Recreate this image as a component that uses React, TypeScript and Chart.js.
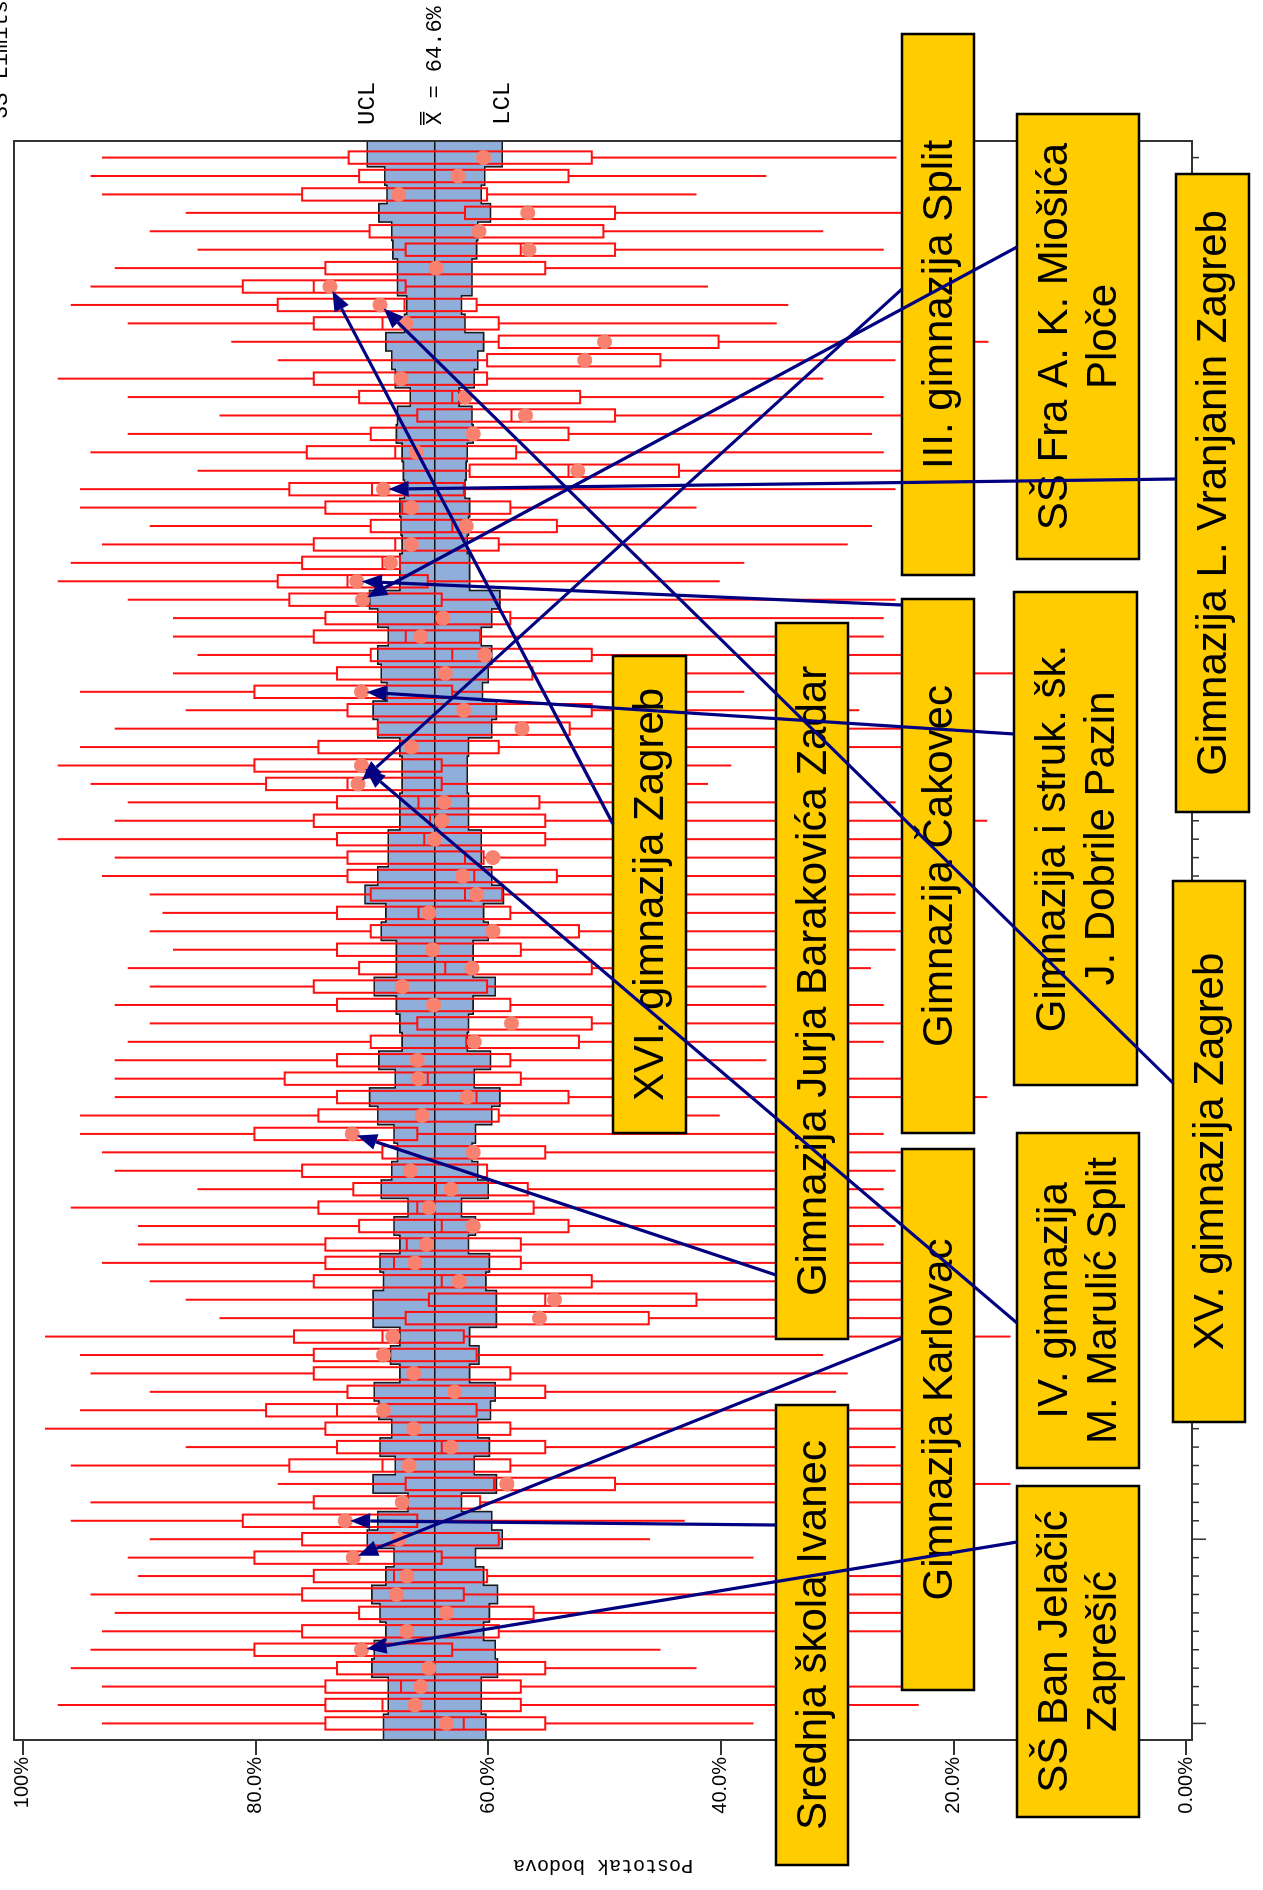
import React, { useEffect, useRef } from 'react';
import { Chart, registerables } from 'chart.js';

Chart.register(...registerables);

// The chart is drawn landscape (1890 x 1263) and the whole block is turned 90deg counter-clockwise.
const W = 1890;
const H = 1263;

const grandMean = 64.6;
const valueTicks = [0, 20, 40, 60, 80, 100];
const valueTickLabels = ['0.00%', '20.0%', '40.0%', '60.0%', '80.0%', '100%'];

// One entry per school, listed from the top of the page downwards (percent of points).
const hi = [93.2, 94.2, 93.2, 86.0, 89.1, 85.0, 92.1, 94.2, 95.9, 91.0,
  82.1, 78.1, 97.0, 91.0, 83.1, 91.0, 94.2, 85.0, 95.1, 95.1,
  89.1, 93.2, 95.9, 97.0, 91.0, 87.1, 87.1, 85.0, 87.1, 95.1,
  86.0, 92.1, 95.1, 97.0, 94.2, 91.0, 92.1, 97.0, 92.1, 93.2,
  89.1, 88.0, 89.1, 87.1, 91.0, 89.1, 92.1, 89.1, 91.0, 92.1,
  92.1, 92.1, 95.1, 95.1, 93.2, 92.1, 85.0, 95.9, 90.1, 90.1,
  93.2, 89.1, 86.0, 83.1, 98.1, 95.1, 94.2, 89.1, 95.1, 98.1,
  86.0, 95.9, 78.1, 94.2, 95.9, 89.1, 91.0, 90.1, 94.2, 92.1,
  93.2, 94.2, 95.9, 93.2, 97.0, 93.2];
const q3 = [72.0, 71.1, 76.0, 62.0, 70.2, 67.1, 74.0, 81.1, 78.1, 75.0,
  59.1, 60.1, 75.0, 71.1, 66.1, 70.1, 75.6, 61.6, 77.1, 74.0,
  70.1, 75.0, 76.0, 78.1, 77.1, 74.0, 75.0, 70.1, 73.0, 80.1,
  72.1, 69.5, 74.6, 80.1, 79.1, 73.0, 75.0, 73.0, 72.1, 72.1,
  70.1, 73.0, 70.1, 73.0, 71.1, 75.0, 73.0, 66.1, 70.1, 73.0,
  77.5, 73.0, 74.6, 80.1, 69.1, 76.0, 71.6, 74.6, 71.1, 74.0,
  74.0, 75.0, 65.1, 67.1, 76.7, 75.0, 75.0, 72.1, 79.1, 74.0,
  73.0, 77.1, 67.1, 75.0, 81.1, 76.0, 80.1, 75.0, 76.0, 71.1,
  76.0, 80.1, 73.0, 74.0, 74.0, 74.0];
const med = [60.4, 62.6, 67.7, 56.6, 60.8, 57.2, 64.5, 75.0, 67.2, 69.1,
  50.0, 51.7, 67.5, 63.1, 58.0, 61.3, 68.0, 53.1, 70.0, 67.4,
  63.1, 68.0, 69.1, 72.1, 70.8, 64.5, 67.1, 63.1, 63.7, 70.9,
  62.1, 57.1, 66.6, 70.9, 72.1, 66.0, 65.0, 65.5, 62.0, 61.2,
  62.0, 66.0, 59.6, 64.8, 63.7, 67.4, 64.7, 58.0, 61.9, 66.1,
  65.2, 61.0, 65.7, 71.7, 61.3, 66.7, 64.5, 66.1, 64.0, 67.0,
  68.1, 64.0, 55.1, 55.6, 69.1, 69.0, 66.4, 62.9, 73.0, 66.4,
  64.0, 69.1, 59.5, 67.4, 72.3, 67.7, 71.6, 68.1, 67.9, 63.6,
  67.0, 70.9, 65.1, 67.5, 69.1, 62.1];
const q1 = [51.1, 53.1, 60.1, 49.1, 50.1, 49.1, 55.1, 67.1, 61.0, 59.1,
  40.2, 45.2, 60.1, 52.1, 49.1, 53.1, 57.6, 43.6, 62.1, 58.1,
  54.1, 59.1, 67.6, 65.2, 64.0, 58.1, 60.7, 51.1, 56.2, 63.1,
  51.1, 53.0, 59.1, 64.0, 64.0, 55.6, 55.1, 55.1, 60.4, 54.1,
  58.8, 58.1, 52.2, 57.2, 51.1, 60.1, 58.1, 51.1, 52.2, 58.1,
  57.2, 53.1, 59.1, 66.1, 55.1, 60.1, 56.6, 56.1, 53.1, 57.2,
  57.2, 51.1, 42.1, 46.2, 62.1, 61.0, 58.1, 55.1, 61.0, 58.1,
  55.1, 58.1, 49.1, 60.7, 66.1, 59.1, 64.0, 60.1, 62.1, 56.1,
  59.1, 63.1, 55.1, 57.2, 57.2, 55.1];
const lo = [24.9, 36.1, 42.1, 24.0, 31.2, 26.0, 22.0, 41.1, 34.2, 35.2,
  17.0, 25.0, 31.2, 26.0, 24.0, 27.0, 26.0, 20.0, 25.0, 42.1,
  27.0, 29.1, 38.0, 40.1, 25.0, 26.0, 26.0, 24.0, 14.8, 38.0,
  28.1, 22.0, 24.0, 39.1, 41.1, 25.0, 17.1, 23.0, 24.0, 24.0,
  25.0, 25.0, 22.0, 25.0, 27.1, 36.1, 26.0, 22.0, 26.0, 36.1,
  24.0, 17.1, 40.1, 26.0, 24.0, 25.0, 26.0, 24.0, 25.0, 26.0,
  24.0, 23.0, 20.0, 22.0, 15.1, 31.2, 29.1, 30.1, 24.0, 22.0,
  25.0, 24.0, 15.1, 23.0, 43.1, 46.1, 37.2, 24.0, 23.0, 24.0,
  24.0, 45.2, 42.1, 24.0, 23.0, 37.2];
const mean = [60.4, 62.6, 67.7, 56.6, 60.8, 56.5, 64.5, 73.6, 69.3, 67.1,
  50.0, 51.7, 67.5, 62.0, 56.8, 61.3, 66.2, 52.3, 69.0, 66.6,
  61.9, 66.6, 68.4, 71.3, 70.8, 63.9, 65.8, 60.3, 63.7, 70.9,
  62.1, 57.1, 66.6, 70.9, 71.2, 63.8, 64.0, 64.6, 59.6, 62.2,
  61.0, 65.1, 59.6, 64.8, 61.4, 67.4, 64.7, 58.0, 61.2, 66.1,
  66.0, 61.8, 65.7, 71.7, 61.3, 66.7, 63.2, 65.1, 61.3, 65.3,
  66.3, 62.5, 54.3, 55.6, 68.2, 69.0, 66.4, 62.9, 69.0, 66.4,
  63.2, 66.8, 58.4, 67.4, 72.3, 67.7, 71.6, 67.0, 67.9, 63.6,
  67.0, 70.9, 65.1, 65.8, 66.3, 63.6];
const ucl = [70.4, 68.9, 68.7, 69.4, 68.3, 68.2, 67.8, 67.8, 67.0, 67.2,
  68.8, 68.3, 68.0, 66.7, 67.8, 67.9, 67.4, 67.3, 67.2, 67.6,
  67.5, 67.4, 67.6, 67.6, 70.2, 69.5, 68.6, 69.5, 69.2, 68.7,
  69.9, 69.5, 67.6, 67.4, 67.4, 67.6, 67.6, 68.6, 68.6, 69.5,
  70.6, 68.8, 69.2, 67.9, 67.9, 69.8, 67.9, 67.6, 67.4, 69.4,
  68.0, 70.2, 69.5, 68.1, 67.8, 68.3, 69.2, 66.9, 68.1, 67.6,
  69.3, 69.0, 69.9, 69.9, 67.6, 68.4, 67.6, 69.8, 69.4, 68.3,
  69.3, 68.0, 69.9, 66.9, 69.5, 70.4, 68.1, 68.8, 70.0, 69.3,
  68.8, 69.8, 70.0, 68.6, 68.6, 69.0];
const lcl = [58.8, 60.3, 60.6, 59.8, 60.9, 61.0, 61.4, 61.4, 62.3, 62.0,
  60.4, 60.9, 61.2, 62.5, 61.4, 61.3, 61.8, 61.9, 62.0, 61.6,
  61.7, 61.8, 61.6, 61.6, 59.0, 59.7, 60.6, 59.7, 60.0, 60.5,
  59.3, 59.7, 61.7, 61.8, 61.8, 61.7, 61.7, 60.6, 60.6, 59.7,
  58.7, 60.4, 60.0, 61.3, 61.3, 59.4, 61.3, 61.7, 61.8, 59.8,
  61.2, 59.0, 59.7, 61.1, 61.4, 60.9, 60.0, 62.3, 61.1, 61.7,
  59.9, 60.2, 59.3, 59.3, 61.6, 60.8, 61.6, 59.4, 59.8, 60.9,
  59.9, 61.2, 59.3, 62.3, 59.7, 58.8, 61.1, 60.4, 59.2, 59.9,
  60.4, 59.4, 59.2, 60.6, 60.6, 60.2];

// Labelled schools: text lines and the row (1-based, from the top) their arrow points at.
const calloutText = [
  ['III. gimnazija Split'],
  ['SŠ Fra A. K. Miošića', 'Ploče'],
  ['Gimnazija L. Vranjanin Zagreb'],
  ['XVI. gimnazija Zagreb'],
  ['Gimnazija Jurja Barakovića Zadar'],
  ['Gimnazija Čakovec'],
  ['Gimnazija i struk. šk.', 'J. Dobrile Pazin'],
  ['XV. gimnazija Zagreb'],
  ['Gimnazija Karlovac'],
  ['IV. gimnazija', 'M. Marulić Split'],
  ['Srednja škola Ivanec'],
  ['SŠ Ban Jelačić', 'Zaprešić'],
];
const calloutRow = [35, 25, 19, 8, 54, 24, 30, 9, 77, 34, 75, 82];

// Layout of the callout boxes in the landscape drawing: [left, top, width, height] and arrow start.
const calloutBox = [
  [1315, 902, 541, 72], [1331, 1017, 445, 122], [1078, 1176, 638, 73], [757, 613, 477, 73],
  [551, 776, 716, 72], [757, 902, 534, 72], [805, 1014, 493, 123], [468, 1173, 541, 72],
  [200, 902, 541, 72], [422, 1017, 335, 122], [25, 776, 460, 72], [73, 1017, 331, 122],
];
const calloutStart = [
  [1601, 902], [1643, 1017], [1411, 1176], [1066, 613],
  [615, 776], [1285, 902], [1156, 1014], [807, 1173],
  [552, 902], [567, 1017], [365, 776], [348, 1017],
];

const N = mean.length;
const pos = (i: number) => N - i; // row i from the top -> position along the school axis

const MONO = '"Liberation Mono", "Courier New", monospace';
const SANS = '"Liberation Sans", Arial, sans-serif';

function drawArrow(ctx: CanvasRenderingContext2D, x0: number, y0: number, x1: number, y1: number) {
  const ang = Math.atan2(y1 - y0, x1 - x0);
  const L = 20;
  const hw = 8;
  const bx = x1 - L * Math.cos(ang);
  const by = y1 - L * Math.sin(ang);
  ctx.beginPath();
  ctx.moveTo(x0, y0);
  ctx.lineTo(bx, by);
  ctx.stroke();
  ctx.beginPath();
  ctx.moveTo(x1, y1);
  ctx.lineTo(bx + hw * Math.sin(ang), by - hw * Math.cos(ang));
  ctx.lineTo(bx - hw * Math.sin(ang), by + hw * Math.cos(ang));
  ctx.closePath();
  ctx.fill();
}

export default function App() {
  const ref = useRef<HTMLCanvasElement>(null);

  useEffect(() => {
    const canvas = ref.current;
    if (!canvas) return;

    const qcPlugin = {
      id: 'qcPlugin',
      beforeDatasetsDraw(chart: any) {
        const { ctx, chartArea: a, scales } = chart;
        const xs = scales.x;
        const ys = scales.y;
        const seg = (i: number) => {
          let l = xs.getPixelForValue(pos(i) - 0.5);
          let r = xs.getPixelForValue(pos(i) + 0.5);
          if (i === N - 1) l = a.left;
          if (i === 0) r = a.right;
          return [l, r];
        };
        // control-limit band
        ctx.save();
        ctx.beginPath();
        for (let i = N - 1; i >= 0; i--) {
          const [l, r] = seg(i);
          const yy = ys.getPixelForValue(ucl[i]);
          if (i === N - 1) ctx.moveTo(l, yy); else ctx.lineTo(l, yy);
          ctx.lineTo(r, yy);
        }
        for (let i = 0; i < N; i++) {
          const [l, r] = seg(i);
          const yy = ys.getPixelForValue(lcl[i]);
          ctx.lineTo(r, yy);
          ctx.lineTo(l, yy);
        }
        ctx.closePath();
        ctx.fillStyle = '#8FAEDA';
        ctx.fill();
        ctx.strokeStyle = '#1a1a1a';
        ctx.lineWidth = 1.6;
        [ucl, lcl].forEach((lim) => {
          ctx.beginPath();
          for (let i = N - 1; i >= 0; i--) {
            const [l, r] = seg(i);
            const yy = ys.getPixelForValue(lim[i]);
            if (i === N - 1) ctx.moveTo(l, yy); else ctx.lineTo(l, yy);
            ctx.lineTo(r, yy);
          }
          ctx.stroke();
        });
        // grand mean line
        const ym = ys.getPixelForValue(grandMean);
        ctx.beginPath();
        ctx.moveTo(a.left, ym);
        ctx.lineTo(a.right, ym);
        ctx.strokeStyle = '#111';
        ctx.lineWidth = 1.6;
        ctx.stroke();
        // box plots
        const bw = 6.2;
        ctx.strokeStyle = '#FF1010';
        ctx.lineWidth = 2;
        for (let i = 0; i < N; i++) {
          const c = xs.getPixelForValue(pos(i));
          const yHi = ys.getPixelForValue(hi[i]);
          const yQ3 = ys.getPixelForValue(q3[i]);
          const yMed = ys.getPixelForValue(med[i]);
          const yQ1 = ys.getPixelForValue(q1[i]);
          const yLo = ys.getPixelForValue(lo[i]);
          ctx.beginPath();
          ctx.moveTo(c, yHi);
          ctx.lineTo(c, yQ3);
          ctx.moveTo(c, yQ1);
          ctx.lineTo(c, yLo);
          ctx.moveTo(c - bw, yMed);
          ctx.lineTo(c + bw, yMed);
          ctx.stroke();
          ctx.strokeRect(c - bw, yQ3, 2 * bw, yQ1 - yQ3);
        }
        ctx.restore();
      },
      afterDraw(chart: any) {
        const { ctx, chartArea: a, scales } = chart;
        const xs = scales.x;
        const ys = scales.y;
        ctx.save();
        // frame
        ctx.strokeStyle = '#333';
        ctx.lineWidth = 2;
        ctx.strokeRect(a.left, a.top, a.right - a.left, a.bottom - a.top);
        // school-axis ticks
        ctx.beginPath();
        for (let p = 1; p <= N; p++) {
          const xx = xs.getPixelForValue(p);
          const len = (p - 1) % 10 === 0 ? 14 : 7;
          ctx.moveTo(xx, a.bottom);
          ctx.lineTo(xx, a.bottom + len);
        }
        ctx.lineWidth = 1.5;
        ctx.stroke();
        ctx.fillStyle = '#000';
        ctx.font = '20px ' + MONO;
        ctx.textAlign = 'center';
        ctx.textBaseline = 'top';
        ctx.fillText('Škola', (a.left + a.right) / 2, a.bottom + 14);
        // header text cut by the page edge
        ctx.textAlign = 'left';
        ctx.textBaseline = 'alphabetic';
        ctx.font = '22px ' + MONO;
        ctx.fillText('3S Limits', a.right + 22, 7);
        // limit labels
        ctx.textBaseline = 'middle';
        ctx.font = '24px ' + MONO;
        const lx = a.right + 16;
        ctx.fillText('UCL', lx, ys.getPixelForValue(ucl[0]));
        ctx.fillText('LCL', lx, ys.getPixelForValue(lcl[0]));
        ctx.font = '22px ' + MONO;
        const ymean = ys.getPixelForValue(grandMean);
        ctx.fillText('X = 64.6%', lx, ymean);
        const xw = ctx.measureText('X').width;
        ctx.lineWidth = 1.5;
        ctx.strokeStyle = '#000';
        ctx.beginPath();
        ctx.moveTo(lx, ymean - 11);
        ctx.lineTo(lx + xw, ymean - 11);
        ctx.moveTo(lx, ymean - 14);
        ctx.lineTo(lx + xw, ymean - 14);
        ctx.stroke();
        // callout boxes
        ctx.font = '42px ' + SANS;
        calloutBox.forEach((b, k) => {
          const [bx, by, bwid, bh] = b;
          ctx.fillStyle = '#FFCC00';
          ctx.fillRect(bx, by, bwid, bh);
          ctx.strokeStyle = '#000';
          ctx.lineWidth = 2.5;
          ctx.strokeRect(bx, by, bwid, bh);
          ctx.fillStyle = '#000';
          ctx.textAlign = 'center';
          ctx.textBaseline = 'middle';
          const lines = calloutText[k];
          const lh = 49;
          lines.forEach((t, j) => {
            const ty = by + bh / 2 + (j - (lines.length - 1) / 2) * lh + 2;
            ctx.fillText(t, bx + bwid / 2, ty);
          });
        });
        // arrows
        ctx.strokeStyle = '#000080';
        ctx.fillStyle = '#000080';
        ctx.lineWidth = 3.2;
        calloutRow.forEach((r, k) => {
          const i = r - 1;
          const tx = xs.getPixelForValue(pos(i));
          const ty = ys.getPixelForValue(mean[i]);
          const [sx, sy] = calloutStart[k];
          const d = Math.hypot(tx - sx, ty - sy);
          const ex = tx + ((sx - tx) / d) * 5;
          const ey = ty + ((sy - ty) / d) * 5;
          drawArrow(ctx, sx, sy, ex, ey);
        });
        ctx.restore();
      },
    };

    const chart = new Chart(canvas, {
      type: 'scatter',
      data: {
        datasets: [
          {
            label: 'Prosjek',
            data: mean.map((m, i) => ({ x: pos(i), y: m })),
            pointRadius: 7.5,
            pointHoverRadius: 7.5,
            pointBackgroundColor: '#F8826F',
            pointBorderWidth: 0,
            pointBorderColor: '#F8826F',
            showLine: false,
          },
        ],
      },
      options: {
        responsive: false,
        animation: false,
        devicePixelRatio: 1,
        layout: { padding: { top: 8, right: 141, bottom: 0, left: 0 } },
        plugins: {
          legend: { display: false },
          tooltip: { enabled: false },
        },
        scales: {
          x: {
            type: 'linear',
            min: 0.1,
            max: 86.9,
            position: 'bottom',
            grid: { display: false },
            border: { display: false },
            ticks: { display: false },
            afterFit: (s: any) => { s.height = 71; },
          },
          y: {
            type: 'linear',
            min: -0.5,
            max: 100.77,
            position: 'left',
            afterBuildTicks: (s: any) => { s.ticks = valueTicks.map((v) => ({ value: v })); },
            ticks: {
              color: '#000',
              font: { family: SANS, size: 20 },
              padding: 2,
              callback: (v: any) => valueTickLabels[valueTicks.indexOf(Number(v))] ?? '',
            },
            grid: { drawOnChartArea: false, drawTicks: true, tickLength: 15, color: '#333', lineWidth: 2 },
            border: { display: false },
            title: {
              display: true,
              text: 'Postotak bodova',
              color: '#000',
              font: { family: MONO, size: 20 },
              padding: { top: 13, bottom: 0 },
            },
            afterFit: (s: any) => { s.width = 150; },
          },
        },
      },
      plugins: [qcPlugin],
    });

    return () => chart.destroy();
  }, []);

  return (
    <div style={{ position: 'absolute', left: 0, top: 0, width: H, height: W, overflow: 'hidden', background: '#fff' }}>
      <div
        style={{
          position: 'absolute',
          left: 0,
          top: 0,
          width: W,
          height: H,
          transformOrigin: '0 0',
          transform: `translateY(${W}px) rotate(-90deg)`,
        }}
      >
        <canvas ref={ref} width={W} height={H} style={{ width: W, height: H, display: 'block' }} />
      </div>
    </div>
  );
}
